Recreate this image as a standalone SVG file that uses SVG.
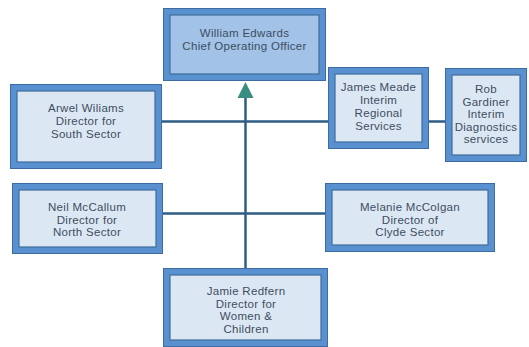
<svg xmlns="http://www.w3.org/2000/svg" width="529" height="347" viewBox="0 0 529 347">
<style>
.o{fill:#5890d0;stroke:#3d6ca3;stroke-width:1}
.i{fill:#dce7f4;stroke:#3f6d9c;stroke-width:1.2}
.it{fill:#a2c2e8;stroke:#3f6d9c;stroke-width:1.2}
text{font-family:"Liberation Sans",Arial,sans-serif;font-size:11.5px;letter-spacing:0.3px;fill:#3c4e60;text-anchor:middle}
.c{stroke:#2f5d86;stroke-width:2.5;fill:none}
</style>
<rect width="529" height="347" fill="#ffffff"/>
<g id="connectors">
<line class="c" x1="161" y1="121.5" x2="328" y2="121.5"/>
<line class="c" x1="429" y1="121.5" x2="445" y2="121.5"/>
<line class="c" x1="162" y1="213.5" x2="325" y2="213.5"/>
<line class="c" x1="245.5" y1="97" x2="245.5" y2="268" stroke-width="3"/>
<polygon points="245.5,82 237.5,98 253.5,98" fill="#3a8e80"/>
</g>
<g id="william">
<rect class="o" x="163.5" y="8.5" width="162" height="72"/>
<rect class="it" x="170" y="15" width="149" height="59"/>
<text x="244.5" y="37">William Edwards</text>
<text x="244.5" y="50">Chief Operating Officer</text>
</g>
<g id="arwel">
<rect class="o" x="10.5" y="84.5" width="151" height="84"/>
<rect class="i" x="17" y="91" width="138" height="71"/>
<text x="86" y="112">Arwel Wiliams</text>
<text x="86" y="125">Director for</text>
<text x="86" y="138">South Sector</text>
</g>
<g id="james">
<rect class="o" x="328.5" y="67.5" width="100" height="81"/>
<rect class="i" x="335" y="74" width="87" height="68"/>
<text x="378.5" y="91">James Meade</text>
<text x="378.5" y="104">Interim</text>
<text x="378.5" y="117">Regional</text>
<text x="378.5" y="130">Services</text>
</g>
<g id="rob">
<rect class="o" x="445.5" y="68.5" width="81" height="93"/>
<rect class="i" x="452" y="75" width="68" height="80"/>
<text x="486" y="93">Rob</text>
<text x="486" y="105.5">Gardiner</text>
<text x="486" y="118">Interim</text>
<text x="486" y="130.5">Diagnostics</text>
<text x="486" y="143">services</text>
</g>
<g id="neil">
<rect class="o" x="12.5" y="183.5" width="150" height="70"/>
<rect class="i" x="19" y="190" width="137" height="57"/>
<text x="87" y="211">Neil McCallum</text>
<text x="87" y="223.5">Director for</text>
<text x="87" y="236">North Sector</text>
</g>
<g id="melanie">
<rect class="o" x="325.5" y="183.5" width="169" height="68"/>
<rect class="i" x="332" y="190" width="156" height="55"/>
<text x="410" y="211">Melanie McColgan</text>
<text x="410" y="223.5">Director of</text>
<text x="410" y="236">Clyde Sector</text>
</g>
<g id="jamie">
<rect class="o" x="163.5" y="268.5" width="164" height="78"/>
<rect class="i" x="170" y="275" width="151" height="65"/>
<text x="246" y="295">Jamie Redfern</text>
<text x="246" y="307.5">Director for</text>
<text x="246" y="320">Women &amp;</text>
<text x="246" y="332.5">Children</text>
</g>
</svg>
